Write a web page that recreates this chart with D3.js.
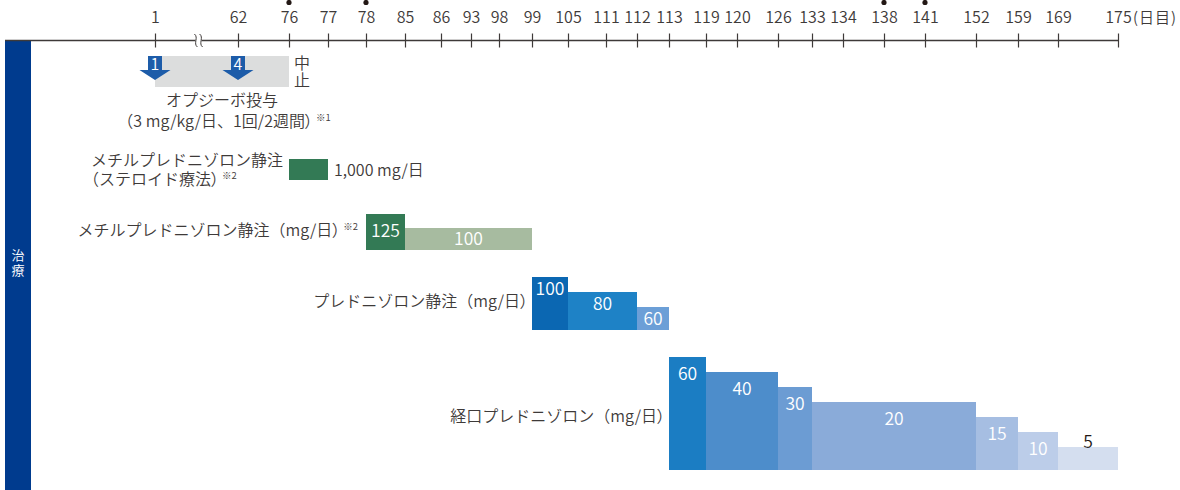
<!DOCTYPE html>
<html lang="ja">
<head>
<meta charset="utf-8">
<script src="https://cdn.jsdelivr.net/npm/d3@7"></script>
<style>
  body { margin: 0; background: #fff; }
  svg { display: block; font-family: "Noto Sans CJK JP", "Noto Sans", sans-serif; font-weight: 350; }
  .vert { writing-mode: vertical-rl; }
  .prop { font-feature-settings: "palt"; }
</style>
</head>
<body>
<svg id="chart" width="1180" height="490"></svg>
<script>
// ---- data -------------------------------------------------------------
// 治療日（日目）
const axisDays = [1, 62, 76, 77, 78, 85, 86, 93, 98, 99, 105, 111, 112, 113, 119, 120, 126, 133, 134, 138, 141, 152, 159, 169, 175];
const markedDays = [76, 78, 138, 141];
const axisUnit = "(日目)";

// オプジーボ投与
const nivoDoseDays = [1, 62];
const nivoDoseNumbers = [1, 4];
const nivoPeriod = [1, 76];
const nivoLabel = ["オプジーボ投与", "（3 mg/kg/日、1回/2週間）"];
const nivoNote = "※1";
const stopLabel = "中止";

// メチルプレドニゾロン静注（ステロイド療法）
const pulsePeriod = [76, 77];
const pulseDoseLabel = "1,000 mg/日";
const pulseLabel = ["メチルプレドニゾロン静注", "（ステロイド療法）"];
const pulseNote = "※2";

// メチルプレドニゾロン静注（mg/日）
const mpStart = [78, 85];
const mpEnd = [85, 99];
const mpDose = [125, 100];

// プレドニゾロン静注（mg/日）
const ivStart = [99, 105, 112];
const ivEnd = [105, 112, 113];
const ivDose = [100, 80, 60];

// 経口プレドニゾロン（mg/日）
const poStart = [113, 119, 126, 133, 152, 159, 169];
const poEnd = [119, 126, 133, 152, 159, 169, 175];
const poDose = [60, 40, 30, 20, 15, 10, 5];

const sideLabel = "治療";

// ---- layout -------------------------------------------------------------
const W = 1180, H = 490;
const ink = "#3e3a39";
const axisY = 40.5;
const axisStart = 155;
// schematic spacing between successive tick days (px)
const tickGaps = [83, 51, 39, 38, 39, 36, 30, 28, 33, 36, 38, 31, 32, 37, 31, 41, 34, 31, 41, 41, 51, 42, 40, 60];
const tickPos = [axisStart, ...d3.cumsum(tickGaps).map(v => axisStart + v)];

const x = d3.scaleLinear().domain(axisDays).range(tickPos);

const svg = d3.select("#chart");

// appends a label whose trailing full-width bracket is set tight, followed by a note mark
function labelWithNote(sel, str, note) {
  const body = str.endsWith("）") ? str.slice(0, -1) : str;
  sel.append("tspan").text(body);
  if (body !== str) sel.append("tspan").attr("class", "prop").text("）");
  if (note) sel.append("tspan").attr("font-size", 9.5).attr("dy", -6).attr("dx", 3).text(note);
}

// side band
svg.append("rect").attr("x", 5).attr("y", axisY).attr("width", 26).attr("height", H - axisY)
  .attr("fill", "#003b8e");
svg.append("text").attr("class", "vert")
  .attr("x", 18).attr("y", 249)
  .attr("font-size", 13).attr("letter-spacing", 2).attr("fill", "#fff")
  .text(sideLabel);

// ---- time axis ----------------------------------------------------------
svg.append("line").attr("x1", 5).attr("x2", x(175)).attr("y1", axisY).attr("y2", axisY)
  .attr("stroke", ink).attr("stroke-width", 1.3);

const axis = d3.axisTop(x).tickValues(axisDays).tickFormat(d3.format("d"))
  .tickSizeOuter(0).tickSizeInner(7).tickPadding(10.5);
const gAxis = svg.append("g").attr("transform", `translate(0,${axisY})`).call(axis);
gAxis.select(".domain").remove();
gAxis.selectAll(".tick line").attr("y1", -7).attr("y2", 7).attr("stroke", ink).attr("stroke-width", 1.2);
gAxis.selectAll(".tick text").attr("fill", ink).attr("font-size", 16)
  .attr("font-family", "\"Noto Sans CJK JP\", sans-serif");
svg.append("text").attr("x", x(175) + 15).attr("y", axisY - 17.5)
  .attr("font-size", 15).attr("letter-spacing", 1).attr("fill", ink).text(axisUnit);

// event dots
svg.append("g").selectAll("circle").data(markedDays).join("circle")
  .attr("cx", d => x(d)).attr("cy", 2.5).attr("r", 2.6).attr("fill", "#231815");

// axis break between day 1 and day 62
const bx = (x(1) + x(62)) / 2 + 2;
svg.append("rect").attr("x", bx - 3).attr("y", axisY - 2).attr("width", 6).attr("height", 4).attr("fill", "#fff");
[-2.6, 2.6].forEach(off => {
  const cx = bx + off;
  svg.append("path")
    .attr("d", `M${cx - 1.5},${axisY - 6.5} C${cx + 3},${axisY - 3} ${cx - 3},${axisY + 3} ${cx + 1.5},${axisY + 6.5}`)
    .attr("fill", "none").attr("stroke", ink).attr("stroke-width", 1);
});

// ---- nivolumab ------------------------------------------------------------
svg.append("rect").attr("x", x(nivoPeriod[0])).attr("y", 56)
  .attr("width", x(nivoPeriod[1]) - x(nivoPeriod[0])).attr("height", 31)
  .attr("fill", "#dcdddd");

const arrows = svg.append("g").selectAll("g").data(nivoDoseDays).join("g")
  .attr("transform", d => `translate(${x(d)},0)`);
arrows.append("path")
  .attr("d", "M-7,56 L7,56 L7,70 L15.5,70 L0,80 L-15.5,70 L-7,70 Z")
  .attr("fill", "#1d5ca9");
arrows.append("text").attr("y", 70).attr("text-anchor", "middle")
  .attr("font-size", 16).attr("fill", "#fff")
  .text((d, i) => nivoDoseNumbers[i]);

svg.append("text").attr("class", "vert")
  .attr("x", x(nivoPeriod[1]) + 13).attr("y", 55)
  .attr("font-size", 16).attr("letter-spacing", 1).attr("fill", ink).text(stopLabel);

const nivoCx = (x(nivoPeriod[0]) + x(nivoPeriod[1])) / 2;
svg.append("text").attr("x", nivoCx).attr("y", 106).attr("text-anchor", "middle")
  .attr("font-size", 16).attr("fill", ink).text(nivoLabel[0]);
const nl2 = svg.append("text").attr("x", nivoCx + 2).attr("y", 127).attr("text-anchor", "middle")
  .attr("font-size", 16).attr("fill", ink);
labelWithNote(nl2, nivoLabel[1], nivoNote);

// ---- steroid pulse --------------------------------------------------------
svg.append("rect").attr("x", x(pulsePeriod[0])).attr("y", 159)
  .attr("width", x(pulsePeriod[1]) - x(pulsePeriod[0])).attr("height", 21)
  .attr("fill", "#337a55");
svg.append("text").attr("x", x(pulsePeriod[1]) + 6).attr("y", 175.5)
  .attr("font-size", 16).attr("fill", ink).text(pulseDoseLabel);
svg.append("text").attr("x", 91).attr("y", 166).attr("font-size", 16).attr("fill", ink).text(pulseLabel[0]);
const pl2 = svg.append("text").attr("x", 83).attr("y", 185).attr("font-size", 16).attr("fill", ink);
labelWithNote(pl2, pulseLabel[1], pulseNote);

// ---- stepped dose bars ----------------------------------------------------
function doseSteps(opts) {
  const { start, end, dose, colors, bottom, base, step, labelOffset, label, note, labelY, labelAboveLowest } = opts;
  const levels = Array.from(new Set(dose)).sort(d3.ascending);
  const h = d3.scalePoint().domain(levels).range([base, base + step * (levels.length - 1)]);
  const rows = dose.map((v, i) => ({ v, s: start[i], e: end[i], c: colors[i] }));
  const g = svg.append("g");
  g.selectAll("rect").data(rows).join("rect")
    .attr("x", d => x(d.s)).attr("width", d => x(d.e) - x(d.s))
    .attr("y", d => bottom - h(d.v)).attr("height", d => h(d.v))
    .attr("fill", d => d.c);
  g.selectAll("text").data(rows).join("text")
    .attr("x", d => (x(d.s) + x(d.e)) / 2)
    .attr("y", d => {
      const top = bottom - h(d.v);
      if (labelAboveLowest && d.v === levels[0]) return top - 5.5;
      return Math.min(top + labelOffset, top + h(d.v) / 2);
    })
    .attr("dy", "0.36em").attr("text-anchor", "middle").attr("font-size", 17.5)
    .attr("fill", d => (labelAboveLowest && d.v === levels[0]) ? "#231815" : "#fff")
    .text(d => d.v);
  const t = svg.append("text").attr("x", x(start[0]) - (note ? 8 : 4)).attr("y", labelY)
    .attr("text-anchor", "end").attr("font-size", 16).attr("fill", ink);
  labelWithNote(t, label, note);
}

doseSteps({
  start: mpStart, end: mpEnd, dose: mpDose,
  colors: ["#337a55", "#a7bba0"],
  bottom: 250, base: 22, step: 14, labelOffset: 17,
  label: "メチルプレドニゾロン静注（mg/日）", note: "※2", labelY: 236
});

doseSteps({
  start: ivStart, end: ivEnd, dose: ivDose,
  colors: ["#0b67b2", "#1e82c6", "#6c9fd7"],
  bottom: 330, base: 23, step: 15, labelOffset: 12,
  label: "プレドニゾロン静注（mg/日）", labelY: 307
});

doseSteps({
  start: poStart, end: poEnd, dose: poDose,
  colors: ["#1b7dc3", "#4d8dcb", "#6c9cd3", "#8aabd9", "#a6bee2", "#bccde9", "#d4deef"],
  bottom: 470, base: 23, step: 15, labelOffset: 17,
  label: "経口プレドニゾロン（mg/日）", labelY: 422, labelAboveLowest: true
});
</script>
</body>
</html>
